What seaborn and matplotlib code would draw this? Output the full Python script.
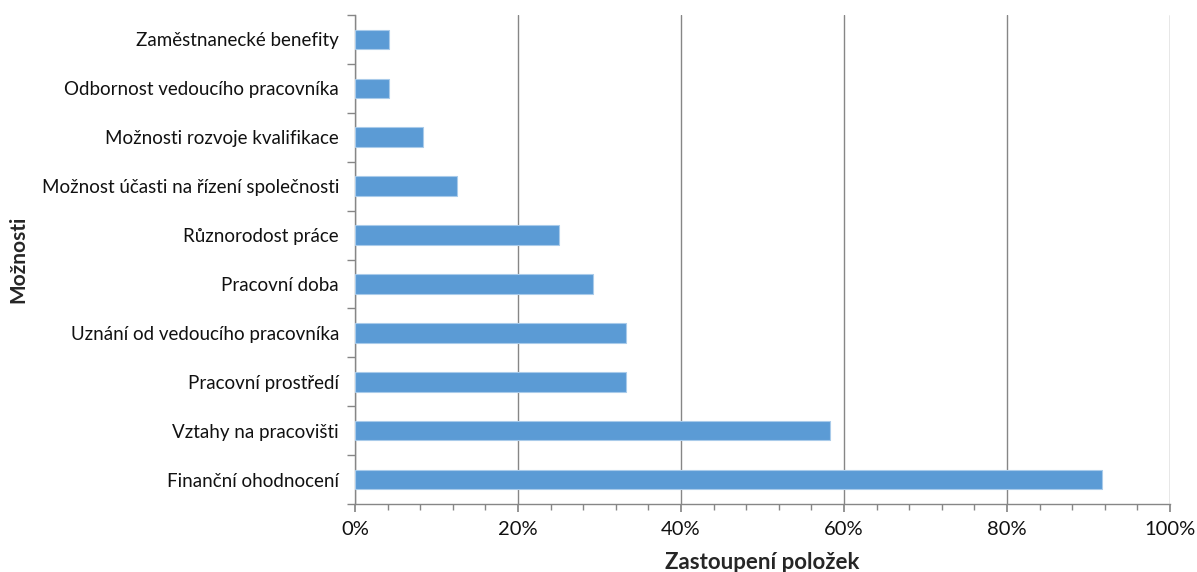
import matplotlib
matplotlib.use("Agg")
import matplotlib.pyplot as plt
import seaborn as sns
import pandas as pd
from matplotlib.ticker import MultipleLocator, PercentFormatter

categories = [
    "Zaměstnanecké benefity",
    "Odbornost vedoucího pracovníka",
    "Možnosti rozvoje kvalifikace",
    "Možnost účasti na řízení společnosti",
    "Různorodost práce",
    "Pracovní doba",
    "Uznání od vedoucího pracovníka",
    "Pracovní prostředí",
    "Vztahy na pracovišti",
    "Finanční ohodnocení",
]
values = [4.2, 4.2, 8.3, 12.5, 25.0, 29.2, 33.3, 33.3, 58.3, 91.7]
x_ticks = [0, 20, 40, 60, 80, 100]

sns.set_theme(style="white")
plt.rcParams["font.family"] = ["Lato", "DejaVu Sans"]

df = pd.DataFrame({"Možnosti": categories, "Zastoupení": values})

fig = plt.figure(figsize=(11.97, 5.72), dpi=100)
ax = fig.add_axes([355 / 1197, 1 - 504 / 572, (1170 - 355) / 1197, (504 - 15) / 572])

sns.barplot(data=df, y="Možnosti", x="Zastoupení", orient="h", ax=ax,
            color="#5B9BD5", width=0.4, edgecolor="#A9CBEA", linewidth=0.8,
            saturation=1, zorder=3)

ax.set_xlim(0, 100)
ax.set_ylim(len(categories) - 0.5, -0.5)
ax.set_xticks(x_ticks)
ax.xaxis.set_minor_locator(MultipleLocator(4))
ax.xaxis.set_major_formatter(PercentFormatter(decimals=0))
ax.grid(axis="x", which="major", color="#868686", linewidth=1.0, zorder=0)
ax.grid(axis="y", visible=False)

for s in ["top", "right"]:
    ax.spines[s].set_visible(False)
for s in ["left", "bottom"]:
    ax.spines[s].set_visible(True)
    ax.spines[s].set_color("#868686")
    ax.spines[s].set_linewidth(1.0)

ax.tick_params(axis="x", which="major", direction="out", length=6, color="#868686",
               labelsize=14.5, pad=6, bottom=True)
ax.tick_params(axis="x", which="minor", direction="out", length=4, color="#868686", bottom=True)
ax.tick_params(axis="y", which="both", left=False, labelsize=13.5, pad=5.5)
# y boundary ticks
ax.set_yticks([i - 0.5 for i in range(len(categories) + 1)], minor=True)
ax.tick_params(axis="y", which="minor", left=True, direction="out", length=6, color="#868686")
for lab in ax.get_xticklabels() + ax.get_yticklabels():
    lab.set_color("#111111")

ax.set_xlabel("Zastoupení položek", fontsize=16, fontweight="bold", labelpad=10)
ax.set_ylabel("Možnosti", fontsize=15, fontweight="bold")
ax.yaxis.set_label_coords(-327 / 815, 0.5)

fig.savefig("out.png", dpi=100)
